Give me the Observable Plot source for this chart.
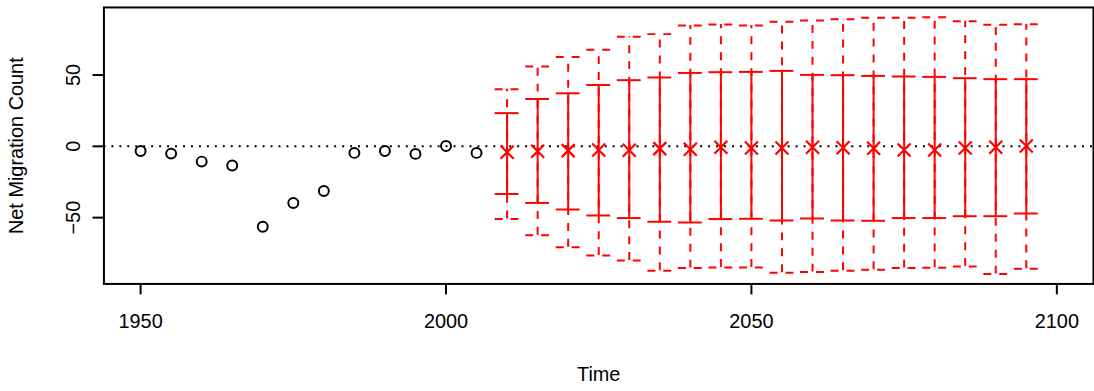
<!DOCTYPE html>
<html>
<head>
<meta charset="utf-8">
<script src="https://cdn.jsdelivr.net/npm/d3@7"></script>
<script src="https://cdn.jsdelivr.net/npm/@observablehq/plot@0.6"></script>
<style>
  html, body { margin: 0; padding: 0; background: #fff; overflow: hidden; }
  #chart svg { display: block; }
</style>
</head>
<body>
<div id="chart"></div>
<script>
const obsYears = [1950, 1955, 1960, 1965, 1970, 1975, 1980, 1985, 1990, 1995, 2000, 2005];
const obsValues = [-3.3, -5.1, -10.7, -13.5, -56.4, -39.7, -31.3, -4.6, -3.3, -5.3, 0.2, -4.6];

const projYears = [2010, 2015, 2020, 2025, 2030, 2035, 2040, 2045, 2050, 2055, 2060, 2065, 2070, 2075, 2080, 2085, 2090, 2095];
const median = [-4.2, -3.5, -3.0, -2.5, -2.7, -1.6, -2.0, -0.7, -1.2, -1.2, -0.7, -1.0, -1.4, -2.5, -2.5, -1.2, -0.7, 0.2];
const lo80 = [-33.4, -39.7, -44.3, -48.5, -50.3, -52.9, -53.4, -51.0, -50.8, -52.0, -50.6, -52.0, -52.2, -50.3, -50.3, -49.0, -49.0, -47.1];
const hi80 = [23.3, 33.2, 37.2, 43.0, 46.4, 48.3, 51.5, 52.0, 52.2, 52.9, 50.1, 49.9, 49.4, 49.0, 48.7, 47.8, 47.1, 47.1];
const lo95 = [-51.0, -62.4, -70.8, -76.6, -80.1, -87.3, -85.4, -85.0, -85.0, -88.6, -88.2, -87.3, -86.6, -85.4, -85.2, -84.3, -89.6, -85.9];
const hi95 = [40.0, 56.0, 62.7, 67.8, 76.9, 78.7, 84.7, 85.4, 84.7, 87.3, 88.2, 89.1, 90.1, 90.1, 90.5, 87.7, 85.2, 85.7];

const xTicks = [1950, 2000, 2050, 2100];
const yTicks = [-50, 0, 50];

const obs = obsYears.map((year, i) => ({year, value: obsValues[i]}));
const proj = projYears.map((year, i) => ({
  year, median: median[i], lo80: lo80[i], hi80: hi80[i], lo95: lo95[i], hi95: hi95[i]
}));

const capHalf = 1.95; // years
const red = "#FF0000";
const font = "'Liberation Sans', Arial, sans-serif";

const chart = Plot.plot({
  width: 1100,
  height: 391,
  marginLeft: 104,
  marginRight: 1,
  marginTop: 7,
  marginBottom: 106,
  style: {fontFamily: font, fontSize: "20px", color: "#000", background: "#fff", overflow: "visible"},
  x: {domain: [1944, 2106]},
  y: {domain: [-96.5, 97.4]},
  marks: [
    Plot.ruleY([0], {stroke: "black", strokeWidth: 2, strokeDasharray: "2 6"}),
    // 95% intervals (dashed)
    Plot.ruleX(proj, {x: "year", y1: "lo95", y2: "hi95", stroke: red, strokeWidth: 2, strokeDasharray: "8 8"}),
    Plot.ruleY(proj, {y: "hi95", x1: d => d.year - capHalf, x2: d => d.year + capHalf, stroke: red, strokeWidth: 2, strokeDasharray: "8 8"}),
    Plot.ruleY(proj, {y: "lo95", x1: d => d.year - capHalf, x2: d => d.year + capHalf, stroke: red, strokeWidth: 2, strokeDasharray: "8 8"}),
    // 80% intervals (solid)
    Plot.ruleX(proj, {x: "year", y1: "lo80", y2: "hi80", stroke: red, strokeWidth: 2}),
    Plot.ruleY(proj, {y: "hi80", x1: d => d.year - capHalf, x2: d => d.year + capHalf, stroke: red, strokeWidth: 2}),
    Plot.ruleY(proj, {y: "lo80", x1: d => d.year - capHalf, x2: d => d.year + capHalf, stroke: red, strokeWidth: 2}),
    // medians
    Plot.dot(proj, {x: "year", y: "median", symbol: "times", r: 6, stroke: red, strokeWidth: 2.2}),
    // observed
    Plot.dot(obs, {x: "year", y: "value", r: 5, stroke: "black", strokeWidth: 2, fill: "none"}),
    Plot.frame({stroke: "black", strokeWidth: 2}),
    Plot.axisX({ticks: xTicks, tickFormat: d => String(d), tickSize: 11, tickPadding: 19, strokeWidth: 2, fontSize: 20, label: null}),
    Plot.axisY({ticks: yTicks, tickFormat: d => d < 0 ? "\u2212" + Math.abs(d) : String(d), tickSize: 11, tickPadding: 13, tickRotate: -90, strokeWidth: 2, fontSize: 20, label: null}),
    Plot.text(["Net Migration Count"], {frameAnchor: "left", textAnchor: "middle", lineAnchor: "middle", dx: -88, rotate: -90, fontSize: 20}),
    Plot.text(["Time"], {frameAnchor: "bottom", dy: 98, fontSize: 20})
  ]
});
document.getElementById("chart").appendChild(chart);
</script>
</body>
</html>
